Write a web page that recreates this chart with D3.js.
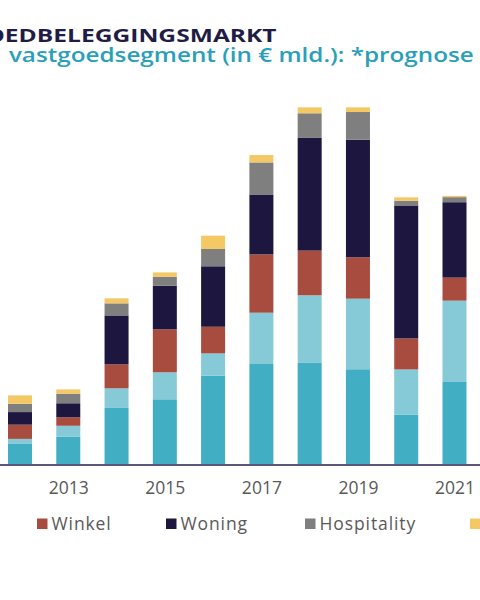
<!DOCTYPE html>
<html>
<head>
<meta charset="utf-8">
<script src="https://cdn.jsdelivr.net/npm/d3@7"></script>
<style>
  html, body { margin: 0; padding: 0; background: #ffffff; }
  svg { display: block; }
</style>
</head>
<body>
<svg id="chart" width="480" height="600"></svg>
<script>
// ---- data (€ mld.) ----
const years = [2012, 2013, 2014, 2015, 2016, 2017, 2018, 2019, 2020, 2021];
const seriesNames = ["Kantoor", "Logistiek", "Winkel", "Woning", "Hospitality", "Overig"];
const kantoor     = [1.17, 1.57, 3.17, 3.65, 4.96, 5.61, 5.67, 5.32, 2.79, 4.61];
const logistiek   = [0.28, 0.61, 1.09, 1.50, 1.24, 2.85, 3.76, 3.92, 2.52, 4.52];
const winkel      = [0.79, 0.47, 1.33, 2.39, 1.48, 3.24, 2.48, 2.30, 1.72, 1.28];
const woning      = [0.70, 0.78, 2.72, 2.42, 3.36, 3.33, 6.26, 6.53, 7.39, 4.19];
const hospitality = [0.46, 0.53, 0.67, 0.50, 0.96, 1.78, 1.37, 1.54, 0.26, 0.28];
const overig      = [0.47, 0.24, 0.28, 0.24, 0.74, 0.41, 0.33, 0.26, 0.19, 0.07];
const tickYears   = [2013, 2015, 2017, 2019, 2021];
const titleParts    = ["NEDERLANDSE VASTGO", "EDBELEGGINGSMARKT"];
const subtitleParts = ["Investeringsvolume per", "vastgoedsegment (in € mld.): *prognose"];

const colors = ["#41aec3", "#86c9d7", "#a94c40", "#1d1740", "#7f7f7f", "#f4c865"];

const table = years.map((yr, i) => ({
  year: yr,
  Kantoor: kantoor[i], Logistiek: logistiek[i], Winkel: winkel[i],
  Woning: woning[i], Hospitality: hospitality[i], Overig: overig[i]
}));

const svg = d3.select("#chart");
const font = "'Open Sans', 'DejaVu Sans', sans-serif";

// scales
const baseY = 465;
const x = d3.scaleLinear().domain([2012, 2021]).range([20, 454.5]);
const y = d3.scaleLinear().domain([0, 20]).range([baseY, baseY - 360]);
const color = d3.scaleOrdinal().domain(seriesNames).range(colors);
const barW = 24;

const layers = d3.stack().keys(seriesNames)(table);

svg.append("g").selectAll("g")
  .data(layers).join("g")
  .attr("fill", d => color(d.key))
  .selectAll("rect")
  .data(d => d).join("rect")
  .attr("x", d => x(d.data.year) - barW / 2)
  .attr("width", barW)
  .attr("y", d => y(d[1]))
  .attr("height", d => y(d[0]) - y(d[1]));

// axis
const axis = d3.axisBottom(x).tickValues(tickYears).tickFormat(d3.format("d")).tickSize(0).tickPadding(17);
const gx = svg.append("g").attr("transform", `translate(0,${baseY})`).call(axis);
gx.select(".domain").remove();
gx.selectAll("text").attr("font-family", font).attr("font-size", 17.5).attr("fill", "#595959");
svg.append("line").attr("x1", 0).attr("x2", 480).attr("y1", baseY).attr("y2", baseY)
  .attr("stroke", "#5b5880").attr("stroke-width", 2);

// title / subtitle: two tspans, stretched horizontally to match reference proportions
function stretchedText(parts, visibleWidth, opts) {
  const t = svg.append("text")
    .attr("font-family", font).attr("font-size", opts.size)
    .attr("font-weight", opts.weight).attr("fill", opts.fill);
  const a = t.append("tspan").text(parts[0]);
  const b = t.append("tspan").attr("dx", opts.gap).text(parts[1]);
  const preW = a.node().getComputedTextLength() + opts.gap;
  const visW = b.node().getComputedTextLength();
  const sx = visibleWidth / visW;
  const leftX = opts.visibleLeft - sx * preW;
  t.attr("transform", `translate(${leftX},${opts.baseline}) scale(${sx},1)`);
  return t;
}
stretchedText(titleParts, 272, { size: 17, weight: 700, fill: "#1f1c45", visibleLeft: 5, baseline: 42, gap: 0 });
stretchedText(subtitleParts, 465, { size: 20, weight: 600, fill: "#2aa0b8", visibleLeft: 9, baseline: 62, gap: 12 });

// legend (square positions follow the reference layout)
const legendSquareX = { Kantoor: -245, Logistiek: -100, Winkel: 37, Woning: 166, Hospitality: 305, Overig: 470 };
const legG = svg.append("g");
seriesNames.forEach(n => {
  const g = legG.append("g").attr("transform", `translate(${legendSquareX[n]},0)`);
  g.append("rect").attr("width", 10.5).attr("height", 10.5).attr("y", 518.5).attr("fill", color(n));
  g.append("text").attr("x", 14.5).attr("y", 530)
    .attr("font-family", font).attr("font-size", 17.5).attr("letter-spacing", 0.9)
    .attr("fill", "#595959").text(n);
});
</script>
</body>
</html>
